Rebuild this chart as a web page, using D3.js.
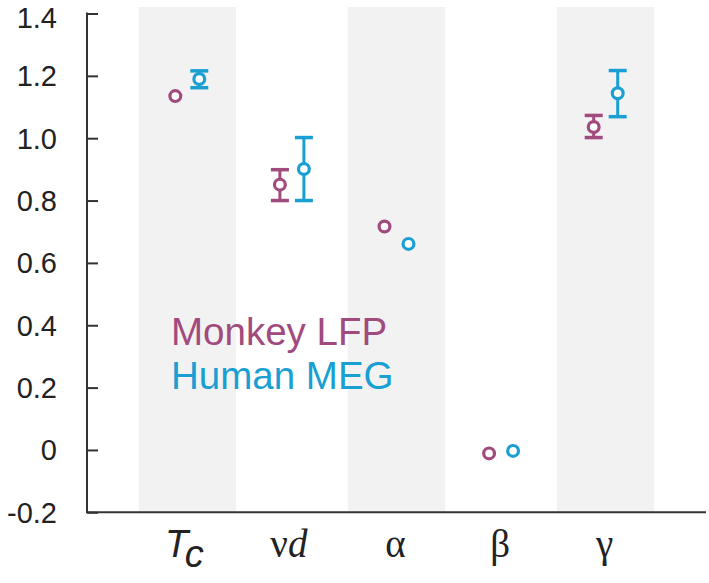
<!DOCTYPE html>
<html>
<head>
<meta charset="utf-8">
<script src="https://cdn.jsdelivr.net/npm/d3@7"></script>
<style>
  body { margin: 0; background: #fff; }
  text { font-family: "Liberation Sans", Arial, sans-serif; }
</style>
</head>
<body>
<script>
let width = 709;
let height = 583;

// categories along x; shaded bands on every other one
let categories = ["Tc", "nud", "alpha", "beta", "gamma"];
let shaded = ["Tc", "alpha", "gamma"];

// values (null = no error bar)
let monkeyMean = [1.135, 0.851, 0.717, -0.011, 1.036];
let monkeyLo   = [null, 0.800, null, null, 1.002];
let monkeyHi   = [null, 0.899, null, null, 1.073];

let humanMean = [1.190, 0.901, 0.661, -0.003, 1.144];
let humanLo   = [1.162, 0.800, null, null, 1.069];
let humanHi   = [1.216, 1.002, null, null, 1.217];

let yTicks = [-0.2, 0, 0.2, 0.4, 0.6, 0.8, 1.0, 1.2, 1.4];
let yTickLabels = ["-0.2", "0", "0.2", "0.4", "0.6", "0.8", "1.0", "1.2", "1.4"];

let purple = "#a04a7e";
let blue = "#1a9fd3";

let series = [
  { name: "Monkey LFP", color: purple, offset: -12, mean: monkeyMean, lo: monkeyLo, hi: monkeyHi },
  { name: "Human MEG", color: blue, offset: 12, mean: humanMean, lo: humanLo, hi: humanHi }
];

let svg = d3.select("body").append("svg")
            .attr("width", width)
            .attr("height", height);

let axisX = 87;
let x = d3.scaleBand().domain(categories).range([135, 658])
          .paddingInner(0.07).paddingOuter(0.035);
let y = d3.scaleLinear().domain([-0.2, 1.4]).range([512.3, 13.5]);

// background bands
svg.selectAll("rect.band").data(shaded).enter().append("rect")
   .attr("class", "band")
   .attr("x", d => x(d))
   .attr("width", x.bandwidth())
   .attr("y", y(1.4) - 6.5)
   .attr("height", y(-0.2) - y(1.4) + 6.5)
   .attr("fill", "#f3f2f2");

// axes
let yAxis = d3.axisRight(y).tickValues(yTicks).tickSize(11).tickFormat("");
let gy = svg.append("g").attr("transform", `translate(${axisX},0)`).call(yAxis);
gy.select(".domain").remove();
gy.selectAll(".tick line").attr("stroke", "#333").attr("stroke-width", 2);
svg.append("line")
   .attr("x1", axisX).attr("x2", axisX)
   .attr("y1", y(1.4) - 1).attr("y2", y(-0.2))
   .attr("stroke", "#333").attr("stroke-width", 2);
svg.append("line")
   .attr("x1", axisX - 1).attr("x2", 706)
   .attr("y1", y(-0.2)).attr("y2", y(-0.2))
   .attr("stroke", "#333").attr("stroke-width", 2);

// top label sits a little lower so it stays inside the page
svg.selectAll("text.ytick").data(yTicks).enter().append("text")
   .attr("class", "ytick")
   .attr("x", 57)
   .attr("y", d => Math.max(y(d), 18))
   .attr("dy", "0.36em")
   .attr("text-anchor", "end")
   .attr("font-size", 29)
   .attr("fill", "#222")
   .text((d, i) => yTickLabels[i]);

// x labels
let labelY = 557;
let cx = c => x(c) + x.bandwidth() / 2;
let serif = "'Liberation Serif', 'Times New Roman', serif";

let tc = svg.append("text").attr("x", cx("Tc") - 3).attr("y", labelY)
            .attr("text-anchor", "middle").attr("font-size", 38).attr("fill", "#222");
tc.append("tspan").attr("font-style", "italic").text("T");
tc.append("tspan").attr("font-style", "italic").attr("dy", 10).text("c");

let nd = svg.append("text").attr("x", cx("nud") - 3).attr("y", labelY)
            .attr("text-anchor", "middle").attr("font-size", 39).attr("fill", "#222")
            .style("font-family", serif);
nd.append("tspan").text("\u03BD");
nd.append("tspan").attr("font-style", "italic").text("d");

let greek = { alpha: "\u03B1", beta: "\u03B2", gamma: "\u03B3" };
Object.keys(greek).forEach(k => {
  svg.append("text").attr("x", cx(k) - 1).attr("y", labelY)
     .attr("text-anchor", "middle").attr("font-size", 39).attr("fill", "#222")
     .style("font-family", serif)
     .text(greek[k]);
});

// error bars and points
let capW = 18;
series.forEach(s => {
  let g = svg.append("g");
  let rows = categories.map((c, i) => ({ c: c, m: s.mean[i], lo: s.lo[i], hi: s.hi[i] }));
  let withErr = rows.filter(d => d.lo !== null);
  let px = d => cx(d.c) + s.offset;

  g.selectAll("line.err").data(withErr).enter().append("line")
   .attr("x1", px).attr("x2", px)
   .attr("y1", d => y(d.lo)).attr("y2", d => y(d.hi))
   .attr("stroke", s.color).attr("stroke-width", 3);
  ["lo", "hi"].forEach(k => {
    g.selectAll("line.cap" + k).data(withErr).enter().append("line")
     .attr("x1", d => px(d) - capW / 2).attr("x2", d => px(d) + capW / 2)
     .attr("y1", d => y(d[k])).attr("y2", d => y(d[k]))
     .attr("stroke", s.color).attr("stroke-width", 3.5);
  });

  g.selectAll("circle").data(rows).enter().append("circle")
   .attr("cx", px)
   .attr("cy", d => y(d.m))
   .attr("r", 5.4)
   .attr("fill", "#fff")
   .attr("stroke", s.color)
   .attr("stroke-width", 3.2);
});

// legend
series.forEach((s, i) => {
  svg.append("text")
     .attr("x", 171)
     .attr("y", 345 + i * 44)
     .attr("font-size", 38.5)
     .attr("fill", s.color)
     .text(s.name);
});
</script>
</body>
</html>
